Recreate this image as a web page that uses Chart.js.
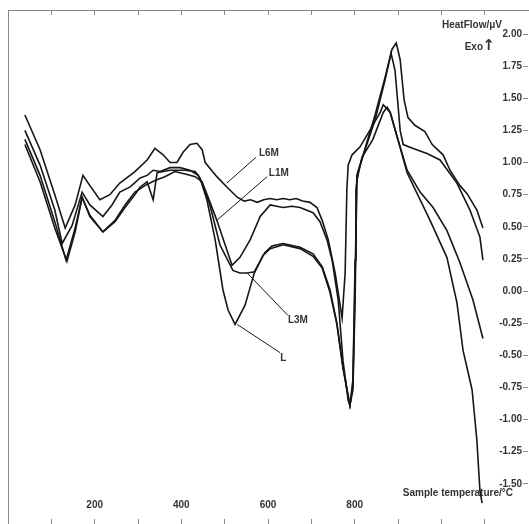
<!DOCTYPE html>
<html>
<head>
<meta charset="utf-8">
<script src="https://cdn.jsdelivr.net/npm/chart.js@4/dist/chart.umd.min.js"></script>
<style>
  html, body { margin: 0; padding: 0; background: #fff; }
  #box { width: 529px; height: 524px; }
</style>
</head>
<body>
<div id="box"><canvas id="chart"></canvas></div>
<script>
// sample temperature (°C), heat flow (µV)
const seriesL6M = [[39,1.37],[74,1.10],[108,0.75],[132,0.49],[155,0.67],[173,0.90],[189,0.82],[212,0.71],[235,0.75],[258,0.84],
  [293,0.93],[321,1.02],[339,1.11],[358,1.06],[374,1.00],[390,1.00],[404,1.08],[420,1.14],[436,1.15],[448,1.10],[455,1.00],
  [482,0.89],[505,0.81],[529,0.73],[545,0.70],[560,0.71],[575,0.69],[590,0.71],[605,0.72],[620,0.71],[635,0.72],[650,0.71],
  [665,0.72],[680,0.70],[697,0.69],[713,0.65],[725,0.55],[739,0.40],[755,0.14],[771,-0.21],[778,0.14],[782,0.79],[785,0.98],
  [794,1.06],[812,1.12],[835,1.25],[859,1.39],[866,1.45],[882,1.39],[898,1.20],[921,0.94],[951,0.77],[981,0.65],[1013,0.47],
  [1043,0.22],[1073,-0.07],[1096,-0.37]];
const seriesL1M = [[39,1.25],[74,0.98],[108,0.63],[125,0.37],[148,0.51],[171,0.77],[189,0.67],[219,0.58],[240,0.67],[258,0.77],
  [282,0.81],[305,0.88],[321,0.90],[335,0.94],[351,0.93],[374,0.96],[397,0.96],[420,0.94],[439,0.90],[455,0.79],[482,0.55],
  [501,0.36],[517,0.20],[535,0.26],[559,0.40],[582,0.58],[605,0.67],[620,0.66],[635,0.65],[655,0.66],[674,0.65],[704,0.61],
  [720,0.54],[736,0.40],[748,0.24],[762,-0.07],[773,-0.54],[785,-0.85],[789,-0.89],[796,-0.69],[801,0.24],[803,0.79],[808,0.93],
  [824,1.10],[847,1.33],[870,1.64],[884,1.85],[893,1.72],[905,1.25],[912,1.14],[935,1.11],[967,1.07],[997,1.02],[1036,0.84],
  [1066,0.63],[1089,0.42],[1096,0.24]];
const seriesL3M = [[39,1.18],[74,0.90],[108,0.54],[134,0.24],[155,0.49],[171,0.73],[189,0.59],[219,0.46],[247,0.55],[270,0.67],
  [293,0.77],[316,0.82],[339,0.86],[362,0.89],[385,0.93],[409,0.91],[432,0.89],[448,0.85],[466,0.67],[489,0.36],[519,0.16],
  [535,0.14],[552,0.14],[570,0.15],[589,0.28],[605,0.33],[635,0.36],[674,0.33],[704,0.27],[725,0.18],[743,-0.01],[759,-0.26],
  [773,-0.60],[789,-0.89],[796,-0.73],[801,0.09],[805,0.90],[824,1.11],[847,1.37],[870,1.66],[886,1.88],[896,1.93],[905,1.80],
  [914,1.49],[923,1.35],[939,1.29],[962,1.24],[979,1.14],[1004,1.06],[1020,0.94],[1043,0.82],[1059,0.76],[1082,0.63],[1096,0.49]];
const seriesL = [[39,1.14],[74,0.85],[108,0.49],[136,0.23],[155,0.46],[171,0.73],[189,0.58],[219,0.46],[247,0.54],[270,0.65],
  [293,0.75],[305,0.81],[321,0.85],[335,0.71],[344,0.92],[358,0.93],[374,0.94],[409,0.94],[432,0.93],[443,0.88],[459,0.71],
  [478,0.40],[496,0.01],[508,-0.15],[524,-0.26],[547,-0.11],[570,0.16],[593,0.30],[609,0.35],[635,0.37],[674,0.34],[704,0.29],
  [725,0.19],[743,0.01],[759,-0.25],[773,-0.59],[789,-0.89],[796,-0.77],[801,-0.07],[805,0.86],[817,1.04],[842,1.18],[866,1.39],
  [875,1.43],[882,1.39],[898,1.20],[921,0.92],[974,0.55],[1013,0.26],[1036,-0.09],[1050,-0.46],[1071,-0.77],[1082,-1.16],
  [1089,-1.55],[1094,-1.65]];

const seriesNames = ['L', 'L1M', 'L3M', 'L6M'];
const xTickValues = [100, 200, 300, 400, 500, 600, 700, 800, 900, 1000, 1100];
const xTickLabels = [200, 400, 600, 800];
const yTickValues = [-1.5, -1.25, -1, -0.75, -0.5, -0.25, 0, 0.25, 0.5, 0.75, 1, 1.25, 1.5, 1.75, 2];
const yMin = -1.813, yMax = 2.187;

const ink = '#161616';
const textCol = '#333';
const axisCol = '#8a8a8a';
const font = { family: "'Liberation Sans', Arial, sans-serif", size: 10, weight: 'bold' };

// series tags with leader lines, in data units
const tags = [
  { name: 'L6M', text: [579, 1.07], from: [572, 1.04], to: [505, 0.84] },
  { name: 'L1M', text: [602, 0.92], from: [598, 0.89], to: [482, 0.55] },
  { name: 'L3M', text: [646, -0.23], from: [646, -0.19], to: [552, 0.14] },
  { name: 'L', text: [628, -0.52], from: [628, -0.48], to: [529, -0.26] }
];

const annotate = {
  id: 'annotate',
  afterDatasetsDraw(chart) {
    const c = chart.ctx, xs = chart.scales.x, ys = chart.scales.y, a = chart.chartArea;
    c.save();
    c.strokeStyle = ink;
    c.lineWidth = 1;
    c.fillStyle = textCol;
    c.font = "bold 10px 'Liberation Sans', Arial, sans-serif";
    c.textBaseline = 'middle';
    tags.forEach(t => {
      c.beginPath();
      c.moveTo(xs.getPixelForValue(t.from[0]), ys.getPixelForValue(t.from[1]));
      c.lineTo(xs.getPixelForValue(t.to[0]), ys.getPixelForValue(t.to[1]));
      c.stroke();
      c.textAlign = 'left';
      c.fillText(t.name, xs.getPixelForValue(t.text[0]), ys.getPixelForValue(t.text[1]));
    });
    c.textAlign = 'right';
    c.fillText('HeatFlow/μV', a.right - 26, a.top + 15);
    c.fillText('Exo', a.right - 45, a.top + 37);
    c.font = "bold 15px 'DejaVu Sans', sans-serif";
    c.fillText('↑', a.right - 33, a.top + 36);
    c.font = "bold 10px 'Liberation Sans', Arial, sans-serif";
    c.fillText('Sample temperature/°C', a.right - 15, a.bottom - 31);
    c.restore();
  }
};

const noPad = s => { s.paddingTop = 0; s.paddingBottom = 0; s.paddingLeft = 0; s.paddingRight = 0; };

const ctx = document.getElementById('chart').getContext('2d');
const sets = [seriesL, seriesL1M, seriesL3M, seriesL6M];

new Chart(ctx, {
  type: 'line',
  data: {
    datasets: sets.map((s, i) => ({
      label: seriesNames[i],
      data: s.map(p => ({ x: p[0], y: p[1] })),
      xAxisID: 'x',
      yAxisID: 'y',
      borderColor: ink,
      borderWidth: 1.6,
      pointRadius: 0,
      tension: 0,
      fill: false
    }))
  },
  options: {
    responsive: true,
    maintainAspectRatio: false,
    animation: false,
    layout: { padding: { left: 8, top: 10, right: 1, bottom: 0 } },
    plugins: { legend: { display: false }, tooltip: { enabled: false }, title: { display: false } },
    scales: {
      x: {
        type: 'linear', position: 'bottom', min: 0, max: 1200,
        afterBuildTicks: s => { s.ticks = xTickValues.map(v => ({ value: v })); },
        afterFit: s => { s.height = 0; noPad(s); },
        grid: { drawOnChartArea: false, tickLength: -5, color: axisCol },
        border: { display: false },
        ticks: { display: false }
      },
      xLabels: {
        type: 'linear', position: { y: -1.619 }, min: 0, max: 1200,
        afterBuildTicks: s => { s.ticks = xTickLabels.map(v => ({ value: v })); },
        grid: { display: false, drawTicks: false },
        border: { display: false },
        ticks: { padding: 0, color: textCol, font: font, maxRotation: 0, autoSkip: false }
      },
      xTop: {
        type: 'linear', position: 'top', min: 0, max: 1200,
        afterBuildTicks: s => { s.ticks = xTickValues.map(v => ({ value: v })); },
        afterFit: s => { s.height = 0; noPad(s); },
        grid: { drawOnChartArea: false, tickLength: -5, color: axisCol },
        border: { display: true, color: axisCol },
        ticks: { display: false }
      },
      yLeft: {
        type: 'linear', position: 'left', min: yMin, max: yMax,
        afterFit: s => { s.width = 0; noPad(s); },
        grid: { display: false },
        border: { display: true, color: axisCol },
        ticks: { display: false }
      },
      y: {
        type: 'linear', position: 'right', min: yMin, max: yMax,
        afterBuildTicks: s => { s.ticks = yTickValues.map(v => ({ value: v })); },
        afterFit: s => { s.width = 0; noPad(s); },
        grid: { drawOnChartArea: false, tickLength: -5, color: axisCol },
        border: { display: false },
        ticks: { mirror: true, padding: -6, color: textCol, font: font, callback: v => v.toFixed(2) }
      }
    }
  },
  plugins: [annotate]
});
</script>
</body>
</html>
